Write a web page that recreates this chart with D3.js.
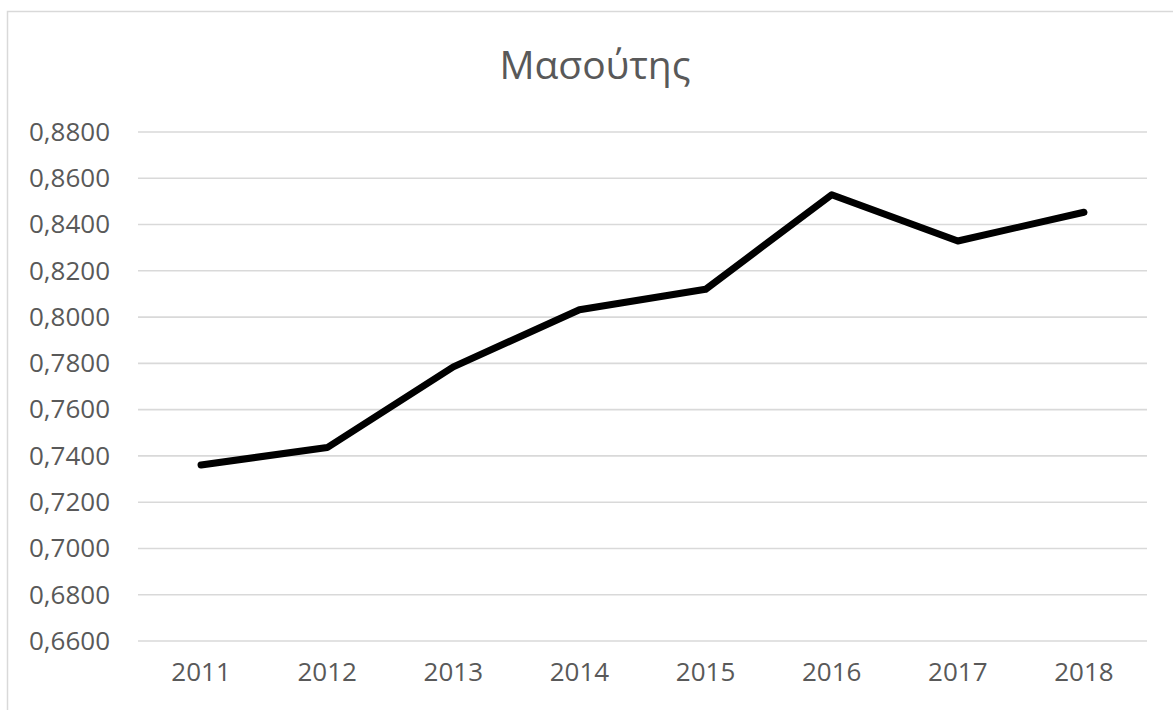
<!DOCTYPE html>
<html>
<head>
<meta charset="utf-8">
<script src="https://cdn.jsdelivr.net/npm/d3@7/dist/d3.min.js"></script>
<style>
  html, body { margin: 0; padding: 0; background: #fff; }
  svg { display: block; }
  text { font-family: "Open Sans", "DejaVu Sans", sans-serif; fill: #595959; }
</style>
</head>
<body>
<svg id="chart" width="1173" height="710"></svg>
<script>
// Chart data
const title = "Μασούτης";
const years = ["2011", "2012", "2013", "2014", "2015", "2016", "2017", "2018"];
const values = [0.7361, 0.7436, 0.7785, 0.8032, 0.8120, 0.8529, 0.8329, 0.8453];
const yTicks = [0.66, 0.68, 0.70, 0.72, 0.74, 0.76, 0.78, 0.80, 0.82, 0.84, 0.86, 0.88];

const svg = d3.select("#chart");

// Outer chart frame
svg.append("rect")
  .attr("x", 7.5).attr("y", 11.5)
  .attr("width", 1200).attr("height", 760)
  .attr("fill", "none")
  .attr("stroke", "#d9d9d9")
  .attr("stroke-width", 1.5);

const plot = { left: 138, right: 1147, top: 132, bottom: 641 };

const x = d3.scaleBand().domain(years).range([plot.left, plot.right]);
const y = d3.scaleLinear().domain([0.66, 0.88]).range([plot.bottom, plot.top]);

// Horizontal gridlines
svg.append("g")
  .selectAll("line")
  .data(yTicks)
  .join("line")
  .attr("x1", plot.left).attr("x2", plot.right)
  .attr("y1", d => y(d)).attr("y2", d => y(d))
  .attr("stroke", "#d9d9d9")
  .attr("stroke-width", 1.6);

// Y axis labels (comma decimal separator)
const fmt = d => d3.format(".4f")(d).replace(".", ",");
const yAxis = d3.axisLeft(y).tickValues(yTicks).tickFormat(fmt).tickSize(0).tickPadding(28);
const gy = svg.append("g").attr("transform", `translate(${plot.left},0)`).call(yAxis);
gy.select(".domain").remove();
gy.selectAll("text")
  .attr("font-size", 26)
  .attr("font-family", "'Open Sans', sans-serif")
  .attr("fill", "#595959");

// X axis labels
const xAxis = d3.axisBottom(x).tickSize(0).tickPadding(22);
const gx = svg.append("g").attr("transform", `translate(0,${plot.bottom})`).call(xAxis);
gx.select(".domain").remove();
gx.selectAll("text")
  .attr("font-size", 26)
  .attr("font-family", "'Open Sans', sans-serif")
  .attr("fill", "#595959");

// Data line
const line = d3.line()
  .x((d, i) => x(years[i]) + x.bandwidth() / 2)
  .y(d => y(d));

svg.append("path")
  .datum(values)
  .attr("d", line)
  .attr("fill", "none")
  .attr("stroke", "#000")
  .attr("stroke-width", 7)
  .attr("stroke-linejoin", "round")
  .attr("stroke-linecap", "round");

// Title
svg.append("text")
  .attr("x", 595).attr("y", 79)
  .attr("text-anchor", "middle")
  .attr("font-size", 39)
  .text(title);
</script>
</body>
</html>
